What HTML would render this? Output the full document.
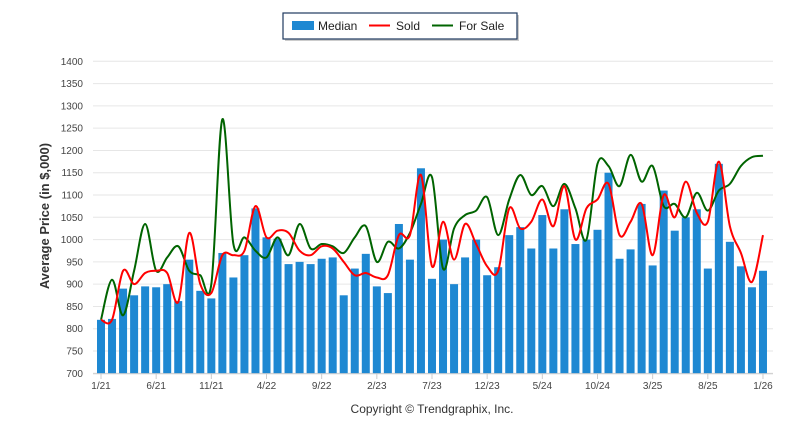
<!DOCTYPE html>
<html><head><meta charset="utf-8"><style>
body{margin:0;background:#fff;font-family:"Liberation Sans",sans-serif;}
svg text{font-family:"Liberation Sans",sans-serif;}
</style></head><body>
<svg id="chart" width="800" height="434">
<g>
<rect x="285" y="15" width="234" height="26" fill="#999" opacity="0.5"/>
<rect x="283" y="13" width="234" height="26" fill="#fff" stroke="#1f3a5f" stroke-width="1.2"/>
<rect x="292" y="21" width="22" height="9" fill="#1e88d2"/>
<text x="318" y="30" font-size="12" fill="#222">Median</text>
<line x1="369" y1="25.5" x2="390" y2="25.5" stroke="red" stroke-width="2"/>
<text x="396" y="30" font-size="12" fill="#222">Sold</text>
<line x1="432" y1="25.5" x2="453" y2="25.5" stroke="#006400" stroke-width="2"/>
<text x="459" y="30" font-size="12" fill="#222">For Sale</text>
</g>
<g id="grid"></g><g id="bars"></g><g id="lines"></g><g id="axes"></g>
<text transform="translate(49,216) rotate(-90)" text-anchor="middle" font-size="13" font-weight="bold" fill="#333">Average Price (in $,000)</text>
<text x="432" y="413" text-anchor="middle" font-size="12" fill="#333">Copyright © Trendgraphix, Inc.</text>
</svg>
<script>
const median=[820,822,890,875,895,893,900,862,955,885,868,970,915,965,1070,1005,1002,945,950,945,957,960,875,935,968,895,880,1035,955,1160,912,1000,900,960,1000,920,938,1010,1028,980,1055,980,1068,990,1000,1022,1150,957,978,1080,942,1110,1020,1050,1068,935,1170,995,940,893,930];
const sold=[820,820,930,900,925,930,925,860,1015,900,880,965,965,975,1075,1005,1020,1015,975,965,985,980,950,920,925,915,920,1010,1010,1145,940,1040,955,1035,990,940,930,1070,1025,1040,1090,1030,1120,1000,1070,1090,1125,1010,1040,1080,965,1100,1050,1130,1060,1040,1175,1030,970,905,1010];
const forSale=[820,910,830,930,1035,930,960,985,930,920,900,1270,990,1005,975,960,1005,965,1035,980,990,985,970,1005,1030,950,995,980,1015,1080,1140,935,1025,1055,1065,1095,1010,1090,1145,1100,1120,1075,1125,1070,1000,1170,1165,1120,1190,1130,1165,1075,1080,1050,1105,1065,1110,1125,1165,1185,1188];
const yTicks=[700,750,800,850,900,950,1000,1050,1100,1150,1200,1250,1300,1350,1400];
const xLabels=["1/21","6/21","11/21","4/22","9/22","2/23","7/23","12/23","5/24","10/24","3/25","8/25","1/26"];
const NS="http://www.w3.org/2000/svg";
const X=i=>101+i*11.033, Y=v=>373.3-(v-700)*0.4457;
function mk(t,a,p){const e=document.createElementNS(NS,t);for(const k in a)e.setAttribute(k,a[k]);p.appendChild(e);return e;}
const grid=document.getElementById('grid'),axes=document.getElementById('axes');
yTicks.forEach(v=>{
 const l=mk('line',{x1:93,x2:773,y1:Y(v),y2:Y(v),stroke:'#e6e6e6','stroke-width':1},grid);
 
 
 const t=mk('text',{x:83,y:Y(v)+3.5,'text-anchor':'end','font-size':10,fill:'#444'},axes);
 t.textContent=v;
 
 
});
mk('line',{x1:93,x2:773,y1:373.8,y2:373.8,stroke:'#ccc','stroke-width':1},axes);
xLabels.forEach((s,k)=>{
 const i=k*5;
 mk('line',{x1:X(i),x2:X(i),y1:374,y2:379,stroke:'#ccc'},axes);
 const t=mk('text',{x:X(i),y:389,'text-anchor':'middle','font-size':10,fill:'#444'},axes);
 t.textContent=s;
 
 
});
const bars=document.getElementById('bars');
median.forEach((v,i)=>{
 const r=mk('rect',{x:X(i)-4,y:Y(v),width:8,height:Y(700)-Y(v),fill:'#1e88d2'},bars);
 
 
});
function path(d){const p=d.map((v,i)=>[X(i),Y(v)]);let s=`M${p[0][0]},${p[0][1]}`;
 for(let i=0;i<p.length-1;i++){const p0=p[Math.max(0,i-1)],p1=p[i],p2=p[i+1],p3=p[Math.min(p.length-1,i+2)];
 s+=`C${p1[0]+(p2[0]-p0[0])/6},${p1[1]+(p2[1]-p0[1])/6} ${p2[0]-(p3[0]-p1[0])/6},${p2[1]-(p3[1]-p1[1])/6} ${p2[0]},${p2[1]}`;}return s;}
const lines=document.getElementById('lines');
const g=mk('path',{d:path(forSale),fill:'none',stroke:'#006400','stroke-width':2},lines);


const r=mk('path',{d:path(sold),fill:'none',stroke:'red','stroke-width':2},lines);


</script>
</body></html>
